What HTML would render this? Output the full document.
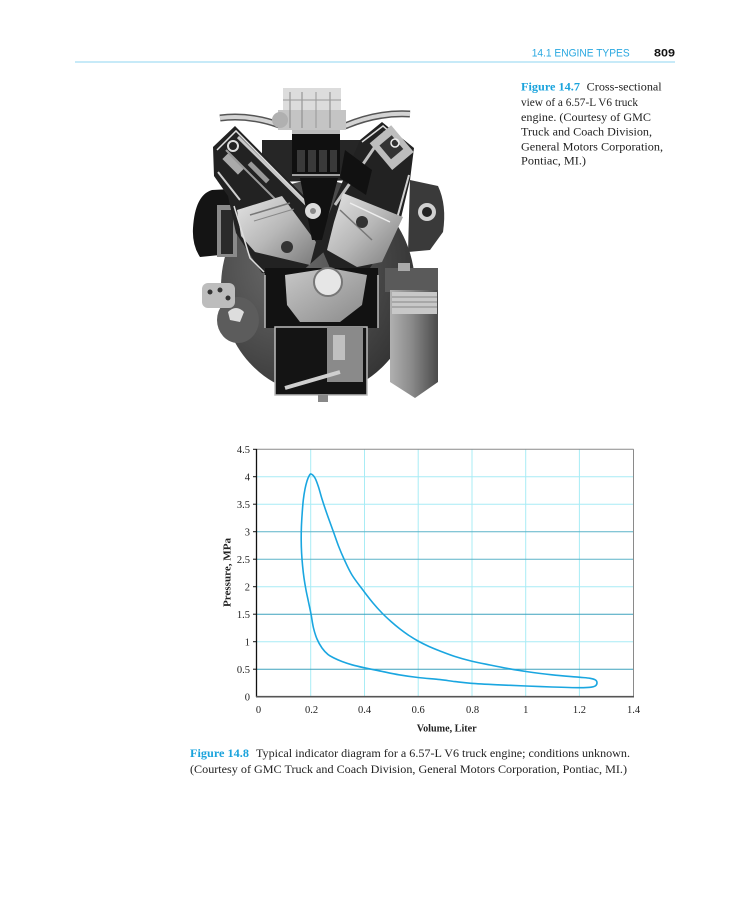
<!DOCTYPE html>
<html><head><meta charset="utf-8"><style>
html,body{margin:0;padding:0;background:#fff;}
svg{display:block;}
</style></head><body>
<svg width="737" height="900" viewBox="0 0 737 900" xmlns="http://www.w3.org/2000/svg">
<defs>
<radialGradient id="hous" cx="0.35" cy="0.4" r="0.7">
<stop offset="0" stop-color="#6a6a6a"/><stop offset="0.6" stop-color="#4a4a4a"/><stop offset="1" stop-color="#333"/>
</radialGradient>
<linearGradient id="pist" x1="0" y1="0" x2="1" y2="1">
<stop offset="0" stop-color="#e4e4e4"/><stop offset="0.5" stop-color="#b8b8b8"/><stop offset="1" stop-color="#7a7a7a"/>
</linearGradient>
<linearGradient id="filt" x1="0" y1="0" x2="1" y2="0">
<stop offset="0" stop-color="#b0b0b0"/><stop offset="0.45" stop-color="#8a8a8a"/><stop offset="1" stop-color="#4a4a4a"/>
</linearGradient>
<linearGradient id="cw" x1="0" y1="0" x2="1" y2="1">
<stop offset="0" stop-color="#c8c8c8"/><stop offset="1" stop-color="#8a8a8a"/>
</linearGradient>
</defs>
<rect width="737" height="900" fill="#fff"/>

<!-- header -->
<text x="531.7" y="56.7" font-family="Liberation Sans, sans-serif" font-size="11" fill="#2aa8e0" textLength="98" lengthAdjust="spacingAndGlyphs">14.1  ENGINE TYPES</text>
<text x="654" y="56.7" font-family="Liberation Sans, sans-serif" font-size="11" font-weight="bold" fill="#111" textLength="21" lengthAdjust="spacingAndGlyphs">809</text>
<line x1="75" y1="62" x2="675" y2="62" stroke="#8fd5f0" stroke-width="1"/>

<!-- caption 14.7 -->
<g font-family="Liberation Serif, serif" font-size="12" fill="#222">
<text x="521" y="90.7" font-weight="bold" fill="#1aa3dc" textLength="59" lengthAdjust="spacingAndGlyphs">Figure 14.7</text>
<text x="586.7" y="90.7" textLength="75" lengthAdjust="spacingAndGlyphs">Cross-sectional</text>
<text x="521" y="106" textLength="117" lengthAdjust="spacingAndGlyphs">view of a 6.57-L V6 truck</text>
<text x="521" y="121" textLength="130" lengthAdjust="spacingAndGlyphs">engine. (Courtesy of GMC</text>
<text x="521" y="135.7" textLength="131" lengthAdjust="spacingAndGlyphs">Truck and Coach Division,</text>
<text x="521" y="150.3" textLength="142" lengthAdjust="spacingAndGlyphs">General Motors Corporation,</text>
<text x="521" y="164.7" textLength="65" lengthAdjust="spacingAndGlyphs">Pontiac, MI.)</text>
</g>

<!-- engine illustration -->
<g>
<ellipse cx="318" cy="287" rx="97" ry="107" fill="url(#hous)"/>
<!-- dark manifold body behind heads -->
<polygon points="262,140 365,140 372,180 262,182" fill="#262626"/>
<!-- left exhaust -->
<path d="M193,228 Q195,195 212,190 L232,189 L236,205 L222,208 Q218,215 220,255 L200,257 Q192,245 193,228 Z" fill="#141414"/>
<rect x="217" y="205" width="20" height="52" fill="#8a8a8a"/>
<rect x="221" y="210" width="12" height="44" fill="#2a2a2a"/>
<!-- right exhaust -->
<path d="M410,180 L438,186 Q447,205 443,232 L430,250 L408,252 Z" fill="#3a3a3a"/>
<circle cx="427" cy="212" r="9" fill="#d0d0d0"/>
<circle cx="427" cy="212" r="5" fill="#222"/>
<!-- left bank -->
<polygon points="213,147 235,126 318,210 326,250 300,273 262,273 236,233 228,196 214,176" fill="#222"/>
<polyline points="217,150 236,131 316,212" fill="none" stroke="#e0e0e0" stroke-width="1.5"/>
<line x1="238" y1="137" x2="312" y2="210" stroke="#c8c8c8" stroke-width="3"/>
<line x1="226" y1="150" x2="290" y2="214" stroke="#9a9a9a" stroke-width="2"/>
<line x1="218" y1="172" x2="240" y2="200" stroke="#d0d0d0" stroke-width="2"/>
<circle cx="233" cy="146" r="5" fill="none" stroke="#ddd" stroke-width="2"/>
<rect x="222" y="160" width="22" height="8" fill="#aaa" transform="rotate(45 233 164)"/>
<rect x="246" y="170" width="26" height="5" fill="#999" transform="rotate(45 259 172)"/>
<polygon points="237,210 282,196 316,242 310,265 255,252 241,236" fill="url(#pist)"/>
<polyline points="234,206 250,258 264,272" fill="none" stroke="#ddd" stroke-width="1.5"/>
<line x1="250" y1="215" x2="290" y2="203" stroke="#777" stroke-width="1.5"/>
<line x1="254" y1="221" x2="294" y2="209" stroke="#888" stroke-width="1"/>
<circle cx="287" cy="247" r="6" fill="#333"/>
<!-- right bank -->
<polygon points="360,140 382,122 414,148 410,180 400,222 370,268 330,268 318,240" fill="#222"/>
<polyline points="362,142 383,126 411,150" fill="none" stroke="#e0e0e0" stroke-width="1.5"/>
<line x1="385" y1="132" x2="335" y2="205" stroke="#c0c0c0" stroke-width="3"/>
<line x1="409" y1="175" x2="396" y2="222" stroke="#d0d0d0" stroke-width="2"/>
<rect x="378" y="130" width="28" height="35" fill="#bdbdbd" transform="rotate(-40 392 148)"/>
<rect x="384" y="138" width="16" height="18" fill="#333" transform="rotate(-40 392 148)"/>
<circle cx="395" cy="143" r="4" fill="none" stroke="#eee" stroke-width="1.5"/>
<path d="M345,150 L372,170 L366,195 L340,178 Z" fill="#111"/>
<polygon points="343,193 403,217 382,262 357,267 327,250 334,222" fill="url(#pist)"/>
<line x1="340" y1="210" x2="372" y2="240" stroke="#777" stroke-width="1.5"/>
<line x1="350" y1="203" x2="390" y2="222" stroke="#eee" stroke-width="1.5"/>
<circle cx="362" cy="222" r="6" fill="#333"/>
<!-- V center -->
<polygon points="300,178 338,178 322,240 312,240" fill="#111"/>
<circle cx="313" cy="211" r="8" fill="#dcdcdc"/>
<circle cx="313" cy="211" r="3" fill="#888"/>
<!-- intake manifold -->
<rect x="292" y="128" width="48" height="47" fill="#101010"/>
<rect x="292" y="128" width="48" height="6" fill="#bbb"/>
<rect x="297" y="150" width="8" height="22" fill="#3a3a3a"/>
<rect x="308" y="150" width="8" height="22" fill="#3a3a3a"/>
<rect x="319" y="150" width="8" height="22" fill="#3a3a3a"/>
<rect x="330" y="150" width="7" height="22" fill="#3a3a3a"/>
<line x1="292" y1="175" x2="340" y2="175" stroke="#ccc" stroke-width="1.5"/>
<!-- crossover pipe -->
<path d="M220,118 Q250,114 282,126" fill="none" stroke="#555" stroke-width="7"/>
<path d="M220,118 Q250,114 282,126" fill="none" stroke="#d4d4d4" stroke-width="4"/>
<path d="M345,126 Q378,112 410,114" fill="none" stroke="#555" stroke-width="7"/>
<path d="M345,126 Q378,112 410,114" fill="none" stroke="#d4d4d4" stroke-width="4"/>
<!-- carburetor -->
<rect x="283" y="88" width="58" height="24" fill="#dcdcdc"/>
<rect x="278" y="110" width="68" height="20" fill="#c4c4c4"/>
<circle cx="280" cy="120" r="8" fill="#b0b0b0"/>
<line x1="290" y1="92" x2="290" y2="128" stroke="#888" stroke-width="1"/>
<line x1="302" y1="92" x2="302" y2="128" stroke="#888" stroke-width="1"/>
<line x1="316" y1="92" x2="316" y2="128" stroke="#999" stroke-width="1"/>
<line x1="330" y1="92" x2="330" y2="128" stroke="#888" stroke-width="1"/>
<line x1="283" y1="100" x2="341" y2="100" stroke="#999" stroke-width="1"/>
<!-- crankcase -->
<rect x="265" y="268" width="113" height="60" fill="#121212"/>
<path d="M285,275 L330,268 L367,275 L362,305 L340,322 L300,322 L287,305 Z" fill="url(#cw)"/>
<circle cx="328" cy="282" r="14" fill="#e6e6e6" stroke="#777" stroke-width="2"/>
<line x1="265" y1="275" x2="265" y2="328" stroke="#bbb" stroke-width="1.5"/>
<line x1="378" y1="275" x2="378" y2="328" stroke="#bbb" stroke-width="1.5"/>
<!-- oil pan -->
<rect x="275" y="327" width="92" height="68" fill="#141414" stroke="#bbb" stroke-width="1.5"/>
<rect x="327" y="327" width="36" height="55" fill="#8a8a8a"/>
<rect x="333" y="335" width="12" height="25" fill="#c0c0c0"/>
<line x1="285" y1="388" x2="340" y2="372" stroke="#cfcfcf" stroke-width="4"/>
<rect x="318" y="395" width="10" height="7" fill="#888"/>
<!-- oil filter -->
<rect x="385" y="268" width="53" height="24" fill="#5a5a5a"/>
<rect x="398" y="263" width="12" height="8" fill="#aaa"/>
<path d="M390,290 L438,290 L438,382 L415,398 L390,382 Z" fill="url(#filt)"/>
<rect x="392" y="292" width="45" height="22" fill="#c8c8c8"/>
<line x1="392" y1="297" x2="437" y2="297" stroke="#888" stroke-width="1"/>
<line x1="392" y1="302" x2="437" y2="302" stroke="#888" stroke-width="1"/>
<line x1="392" y1="307" x2="437" y2="307" stroke="#888" stroke-width="1"/>
<!-- left accessories -->
<ellipse cx="238" cy="320" rx="21" ry="23" fill="#5c5c5c"/>
<path d="M228,312 Q236,304 244,312 L240,322 L230,320 Z" fill="#ddd"/>
<rect x="202" y="283" width="33" height="25" rx="6" fill="#bdbdbd"/>
<circle cx="210" cy="292" r="2.5" fill="#333"/>
<circle cx="220" cy="290" r="2.5" fill="#333"/>
<circle cx="228" cy="298" r="2.5" fill="#333"/>
</g>

<!-- chart -->
<g>
<g stroke="#a8ecf5" stroke-width="1">
<line x1="310.7" y1="449.3" x2="310.7" y2="696.7"/>
<line x1="364.5" y1="449.3" x2="364.5" y2="696.7"/>
<line x1="418.2" y1="449.3" x2="418.2" y2="696.7"/>
<line x1="472" y1="449.3" x2="472" y2="696.7"/>
<line x1="525.7" y1="449.3" x2="525.7" y2="696.7"/>
<line x1="579.4" y1="449.3" x2="579.4" y2="696.7"/>
</g>
<g stroke-width="1">
<line x1="257" y1="476.7" x2="633.5" y2="476.7" stroke="#a8ecf5"/>
<line x1="257" y1="504.2" x2="633.5" y2="504.2" stroke="#a8ecf5"/>
<line x1="257" y1="531.7" x2="633.5" y2="531.7" stroke="#5bb4c8"/>
<line x1="257" y1="559.2" x2="633.5" y2="559.2" stroke="#5bb4c8"/>
<line x1="257" y1="586.7" x2="633.5" y2="586.7" stroke="#a8ecf5"/>
<line x1="257" y1="614.2" x2="633.5" y2="614.2" stroke="#3fa2bd"/>
<line x1="257" y1="641.7" x2="633.5" y2="641.7" stroke="#a8ecf5"/>
<line x1="257" y1="669.2" x2="633.5" y2="669.2" stroke="#3fa2bd"/>
</g>
<line x1="257" y1="449.3" x2="633.5" y2="449.3" stroke="#8a8a8a" stroke-width="1"/>
<line x1="633.5" y1="449.3" x2="633.5" y2="696.7" stroke="#8a8a8a" stroke-width="1"/>
<line x1="256.5" y1="449" x2="256.5" y2="697" stroke="#111" stroke-width="1.3"/>
<line x1="256" y1="696.7" x2="634" y2="696.7" stroke="#555" stroke-width="1.6"/>
<g stroke="#111" stroke-width="1">
<line x1="253" y1="449.3" x2="257" y2="449.3"/>
<line x1="253" y1="476.7" x2="257" y2="476.7"/>
<line x1="253" y1="504.2" x2="257" y2="504.2"/>
<line x1="253" y1="531.7" x2="257" y2="531.7"/>
<line x1="253" y1="559.2" x2="257" y2="559.2"/>
<line x1="253" y1="586.7" x2="257" y2="586.7"/>
<line x1="253" y1="614.2" x2="257" y2="614.2"/>
<line x1="253" y1="641.7" x2="257" y2="641.7"/>
<line x1="253" y1="669.2" x2="257" y2="669.2"/>
</g>
<!-- curve (fallback polyline, replaced by smooth path via script) -->
<polyline id="loopPoly" fill="none" stroke="#1aa6e0" stroke-width="1.6" stroke-linejoin="round" points="311,474 315,478 318.5,487 322,499 327,514 333.5,532 338.5,546 344,559 352,575 364,591.5 373,603 382,613 391,621.5 400,629 409,635.5 418,641 429,646.5 440,651 455,656.5 471,661 490,665 508,668.5 526,671.5 552,674.8 579,677.2 590,678.3 595.5,680 597,682.8 595.5,685.8 590,687.3 579,687.7 552,687 526,686 498,684.8 471,683.3 455,681.6 440,679.6 418,677.5 399,674.8 381,671.2 364,667.7 352,664.8 342,661.5 334,658 328,654.5 322,648 317,639 313.5,628 311,614 308.5,602 306,590 304,578 302.6,566 301.6,553 301.2,540 301.4,527 302.2,513 303.3,500 305,489 307,481 308.8,476.5 311,474"/>
<path id="loopPath" fill="none" stroke="#1aa6e0" stroke-width="1.6" stroke-linejoin="round" d=""/>
<g font-family="Liberation Serif, serif" font-size="10.5" fill="#222" text-anchor="end">
<text x="250" y="453">4.5</text>
<text x="250" y="480.4">4</text>
<text x="250" y="507.9">3.5</text>
<text x="250" y="535.4">3</text>
<text x="250" y="562.9">2.5</text>
<text x="250" y="590.4">2</text>
<text x="250" y="617.9">1.5</text>
<text x="250" y="645.4">1</text>
<text x="250" y="672.9">0.5</text>
<text x="250" y="700.4">0</text>
</g>
<g font-family="Liberation Serif, serif" font-size="10.5" fill="#222" text-anchor="middle">
<text x="258.5" y="713">0</text>
<text x="311.5" y="713">0.2</text>
<text x="364.5" y="713">0.4</text>
<text x="418.2" y="713">0.6</text>
<text x="472.5" y="713">0.8</text>
<text x="525.7" y="713">1</text>
<text x="579.4" y="713">1.2</text>
<text x="633.5" y="713">1.4</text>
</g>
<text x="416.7" y="731.7" font-family="Liberation Serif, serif" font-size="11" font-weight="bold" fill="#222" textLength="60" lengthAdjust="spacingAndGlyphs">Volume, Liter</text>
<text transform="translate(230.5,607) rotate(-90)" font-family="Liberation Serif, serif" font-size="11" font-weight="bold" fill="#222" textLength="69" lengthAdjust="spacingAndGlyphs">Pressure, MPa</text>
</g>

<!-- caption 14.8 -->
<g font-family="Liberation Serif, serif" font-size="12" fill="#222">
<text x="190" y="757" font-weight="bold" fill="#1aa3dc" textLength="59" lengthAdjust="spacingAndGlyphs">Figure 14.8</text>
<text x="256" y="757" textLength="374" lengthAdjust="spacingAndGlyphs">Typical indicator diagram for a 6.57-L V6 truck engine; conditions unknown.</text>
<text x="190" y="773" textLength="437" lengthAdjust="spacingAndGlyphs">(Courtesy of GMC Truck and Coach Division, General Motors Corporation, Pontiac, MI.)</text>
</g>
</svg>
<script>
(function(){
  var poly=document.getElementById('loopPoly');
  var raw=poly.getAttribute('points').trim().split(/\s+/);
  var p=[];
  for(var i=0;i<raw.length-1;i++){var xy=raw[i].split(',');p.push([+xy[0],+xy[1]]);}
  var n=p.length;
  function g(i){return p[(i+n)%n];}
  var d='M'+p[0][0]+','+p[0][1];
  for(var i=0;i<n;i++){
    var p0=g(i-1),p1=g(i),p2=g(i+1),p3=g(i+2);
    var c1x=p1[0]+(p2[0]-p0[0])/6,c1y=p1[1]+(p2[1]-p0[1])/6;
    var c2x=p2[0]-(p3[0]-p1[0])/6,c2y=p2[1]-(p3[1]-p1[1])/6;
    d+='C'+c1x.toFixed(2)+','+c1y.toFixed(2)+' '+c2x.toFixed(2)+','+c2y.toFixed(2)+' '+p2[0]+','+p2[1];
  }
  d+='Z';
  document.getElementById('loopPath').setAttribute('d',d);
  poly.setAttribute('stroke','none');
})();
</script>
</body></html>
